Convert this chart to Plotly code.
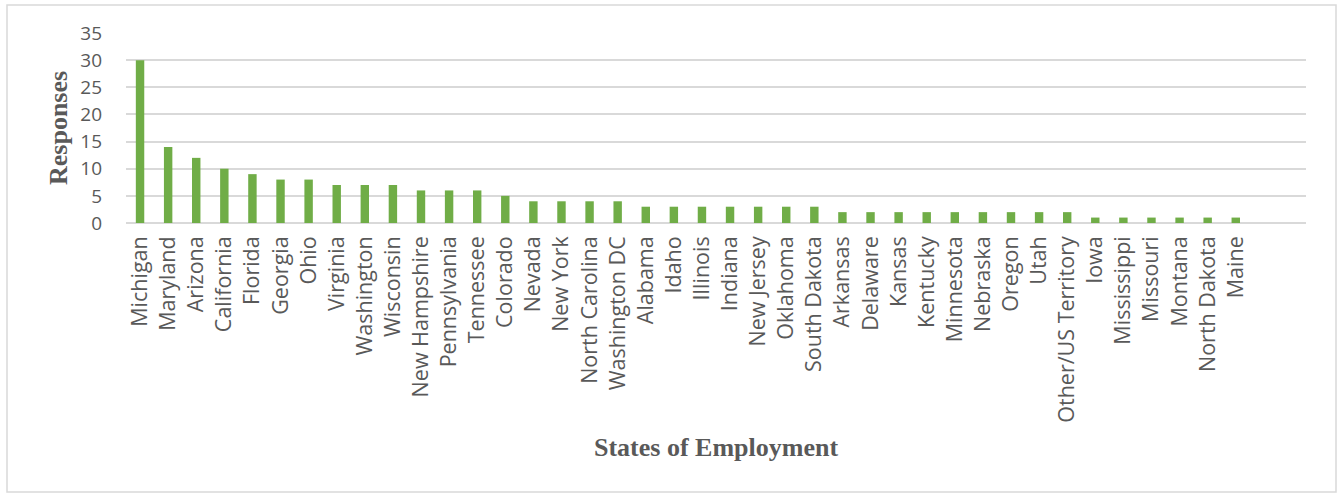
import plotly.graph_objects as go

states = [
    "Michigan", "Maryland", "Arizona", "California", "Florida", "Georgia", "Ohio",
    "Virginia", "Washington", "Wisconsin", "New Hampshire", "Pennsylvania", "Tennessee",
    "Colorado", "Nevada", "New York", "North Carolina", "Washington DC", "Alabama",
    "Idaho", "Illinois", "Indiana", "New Jersey", "Oklahoma", "South Dakota", "Arkansas",
    "Delaware", "Kansas", "Kentucky", "Minnesota", "Nebraska", "Oregon", "Utah",
    "Other/US Territory", "Iowa", "Mississippi", "Missouri", "Montana", "North Dakota", "Maine",
]
responses = [
    30, 14, 12, 10, 9, 8, 8,
    7, 7, 7, 6, 6, 6,
    5, 4, 4, 4, 4, 3,
    3, 3, 3, 3, 3, 3, 2,
    2, 2, 2, 2, 2, 2, 2,
    2, 1, 1, 1, 1, 1, 1,
]
y_ticks = [0, 5, 10, 15, 20, 25, 30, 35]

GREEN = "#70AD47"
GRID = "#D9D9D9"
TEXT = "#595959"

fig = go.Figure(
    go.Bar(x=states, y=responses, marker=dict(color=GREEN, line=dict(width=0)), width=0.3)
)

fig.update_layout(
    width=1344,
    height=493,
    margin=dict(l=126, r=38, t=33, b=270),
    paper_bgcolor="white",
    plot_bgcolor="white",
    showlegend=False,
    xaxis=dict(
        type="category",
        range=[-0.5, 41.5],
        tickangle=-90,
        tickfont=dict(family="Open Sans", size=21.5, color=TEXT),
        showgrid=False,
        showline=False,
        ticks="",
        zeroline=False,
        ticklabelstandoff=8,
        fixedrange=True,
    ),
    yaxis=dict(
        range=[0, 35],
        tickvals=y_ticks,
        tickfont=dict(family="Open Sans", size=19, color=TEXT),
        showgrid=True,
        gridcolor=GRID,
        gridwidth=1.5,
        zeroline=True,
        zerolinecolor=GRID,
        zerolinewidth=1.5,
        showline=False,
        ticks="",
        ticklabelstandoff=23,
        fixedrange=True,
    ),
    annotations=[
        dict(
            text="<b>States of Employment</b>", xref="paper", yref="paper",
            x=0.5, y=(223 - 447) / 190, xanchor="center", yanchor="middle",
            showarrow=False,
            font=dict(family="Liberation Serif", size=26, color=TEXT),
        ),
        dict(
            text="<b>Responses</b>", xref="paper", yref="paper",
            x=(58 - 126) / 1180, y=(223 - 128) / 190, xanchor="center", yanchor="middle",
            textangle=-90, showarrow=False,
            font=dict(family="Liberation Serif", size=26, color=TEXT),
        ),
    ],
    shapes=[
        dict(
            type="rect", xref="paper", yref="paper",
            x0=(7 - 126) / 1180, x1=(1336 - 126) / 1180,
            y0=(223 - 492) / 190, y1=(223 - 5) / 190,
            line=dict(color=GRID, width=1.5), fillcolor="rgba(0,0,0,0)", layer="below",
        )
    ],
)

fig.write_html("out.html")
